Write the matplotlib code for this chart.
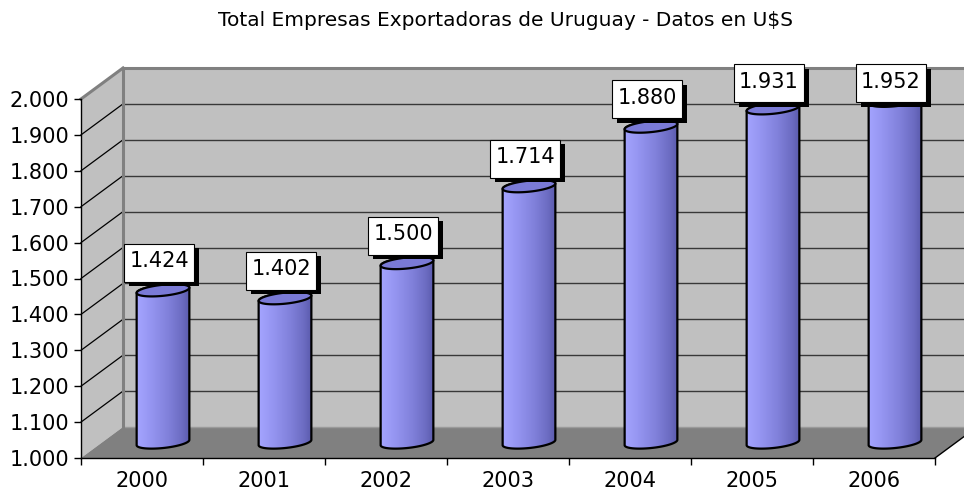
import numpy as np
import matplotlib
matplotlib.use('Agg')
import matplotlib.pyplot as plt
from matplotlib.patches import Polygon, Rectangle
from matplotlib.colors import LinearSegmentedColormap

# ---------------- data ----------------
years = ['2000', '2001', '2002', '2003', '2004', '2005', '2006']
values = [1424, 1402, 1500, 1714, 1880, 1931, 1952]
value_labels = ['1.424', '1.402', '1.500', '1.714', '1.880', '1.931', '1.952']
y_ticks = [1000, 1100, 1200, 1300, 1400, 1500, 1600, 1700, 1800, 1900, 2000]
y_tick_labels = ['1.000', '1.100', '1.200', '1.300', '1.400', '1.500',
                 '1.600', '1.700', '1.800', '1.900', '2.000']
title = 'Total Empresas Exportadoras de Uruguay - Datos en U$S'

# ---------------- layout ----------------
W, H = 964, 493
fig = plt.figure(figsize=(W / 100, H / 100), dpi=100)
fig.patch.set_facecolor('white')
ax_l, ax_r, ax_t, ax_b = 81, 935, 99, 458
ax = fig.add_axes([ax_l / W, 1 - ax_b / H, (ax_r - ax_l) / W, (ax_b - ax_t) / H])
ax.patch.set_visible(False)
ymin, ymax = y_ticks[0], y_ticks[-1]
n = len(years)

kx = (ax_r - ax_l) / n          # px per category
ky = (ax_b - ax_t) / (ymax - ymin)  # px per unit


def pdx(p):
    return p / kx


def pdy(p):
    return p / ky


DX, DY = pdx(42), pdy(31)   # depth offset

wall_c = '#C0C0C0'
floor_c = '#808080'
edge_c = '#808080'

# left wall
ax.add_patch(Polygon([(0, ymin), (0, ymax), (DX, ymax + DY), (DX, ymin + DY)],
                     closed=True, fc=wall_c, ec='none', zorder=0, clip_on=False))
# back wall
ax.add_patch(Polygon([(DX, ymin + DY), (DX, ymax + DY), (n + DX, ymax + DY), (n + DX, ymin + DY)],
                     closed=True, fc=wall_c, ec='none', zorder=0, clip_on=False))
# floor
ax.add_patch(Polygon([(0, ymin), (n, ymin), (n + DX, ymin + DY), (DX, ymin + DY)],
                     closed=True, fc=floor_c, ec='none', zorder=0.5, clip_on=False))

# gridlines
for v in y_ticks[1:-1]:
    ax.plot([DX, n + DX], [v + DY, v + DY], color='#383838', lw=1.0, zorder=1, clip_on=False)
    ax.plot([0, DX], [v, v + DY], color='black', lw=0.9, zorder=1, clip_on=False)
# wall edges
ax.plot([DX, n + DX], [ymax + DY, ymax + DY], color=edge_c, lw=2.2, zorder=1.2, clip_on=False)
ax.plot([0, DX], [ymax, ymax + DY], color=edge_c, lw=2.2, zorder=1.2, clip_on=False)
ax.plot([DX, DX], [ymin + DY, ymax + DY], color=edge_c, lw=2.2, zorder=1.2, clip_on=False)
ax.plot([DX, n + DX], [ymin + DY, ymin + DY], color='#9a9a9a', lw=1.0, zorder=0.6, clip_on=False)
# right floor edge
ax.plot([n, n + DX], [ymin, ymin + DY], color='black', lw=1.0, zorder=1.2, clip_on=False)

# ---------------- cylinders ----------------
cmap = LinearSegmentedColormap.from_list(
    'cyl', [(0.0, '#A4A4FF'), (0.25, '#9696F2'), (0.6, '#8080DA'), (0.85, '#6C6CC2'), (1.0, '#5A5AAC')])
grad = np.linspace(0, 1, 256).reshape(1, -1)
a_px, b_px = 26.5, 5.5
th = np.deg2rad(6)
box_w, box_h = 70, 38
shadow = 4.5


def ell_pts(cx, cy, t):
    ex = a_px * np.cos(t) * np.cos(th) - b_px * np.sin(t) * np.sin(th)
    ey = a_px * np.cos(t) * np.sin(th) + b_px * np.sin(t) * np.cos(th)
    return np.column_stack([cx + pdx(ex), cy + pdy(ey)])


for i, (v, lab) in enumerate(zip(values, value_labels)):
    cx = i + 0.5 + DX / 2
    base = ymin + DY / 2
    top = v + DY / 2
    bottom_half = ell_pts(cx, base, np.linspace(np.pi, 2 * np.pi, 60))
    top_half = ell_pts(cx, top, np.linspace(0, np.pi, 60))
    body_pts = np.vstack([bottom_half, top_half])
    body = Polygon(body_pts, closed=True, fc='none', ec='black', lw=1.6, zorder=4, clip_on=False,
                   joinstyle='round')
    ax.add_patch(body)
    w = pdx(a_px)
    im = ax.imshow(grad, extent=[cx - w, cx + w, base - pdy(10), top + pdy(10)],
                   aspect='auto', cmap=cmap, zorder=3, interpolation='bilinear')
    im.set_clip_path(body)
    im.set_clip_box(fig.bbox)
    cap = Polygon(ell_pts(cx, top, np.linspace(0, 2 * np.pi, 120)), closed=True,
                  fc='#7A7AD6', ec='black', lw=1.6, zorder=5, clip_on=False)
    ax.add_patch(cap)

    # data label with drop shadow
    lx = cx - pdx(4)
    ly = min(v + pdy(43), ymin + pdy(ax_b - 83))
    x0, y0 = lx - pdx(box_w / 2), ly - pdy(box_h / 2)
    ax.add_patch(Rectangle((x0 + pdx(shadow), y0 - pdy(shadow)), pdx(box_w), pdy(box_h),
                           fc='black', ec='none', zorder=6, clip_on=False))
    ax.add_patch(Rectangle((x0, y0), pdx(box_w), pdy(box_h),
                           fc='white', ec='black', lw=0.8, zorder=6.1, clip_on=False))
    ax.text(lx, ly + pdy(1.5), lab, ha='center', va='center', fontsize=15, zorder=6.2,
            clip_on=False)

ax.set_xlim(0, n)
ax.set_ylim(ymin, ymax)

# ---------------- axes ----------------
for s in ['top', 'right']:
    ax.spines[s].set_visible(False)
for s in ['left', 'bottom']:
    ax.spines[s].set_color('black')
    ax.spines[s].set_linewidth(1.0)
    ax.spines[s].set_zorder(2)

ax.set_yticks(y_ticks, y_tick_labels)
ax.tick_params(axis='y', length=5, width=1, direction='out', pad=3.5, labelsize=15)
ax.set_xticks(np.arange(n) + 0.5, years)
ax.set_xticks(np.arange(n + 1), minor=True)
ax.tick_params(axis='x', which='major', length=0, pad=9.5, labelsize=15)
ax.tick_params(axis='x', which='minor', length=5, width=1, direction='out')

fig.text(505.5 / W, 1 - 21 / H, title, ha='center', va='center', fontsize=14.5)

fig.savefig('out.png', dpi=100)
